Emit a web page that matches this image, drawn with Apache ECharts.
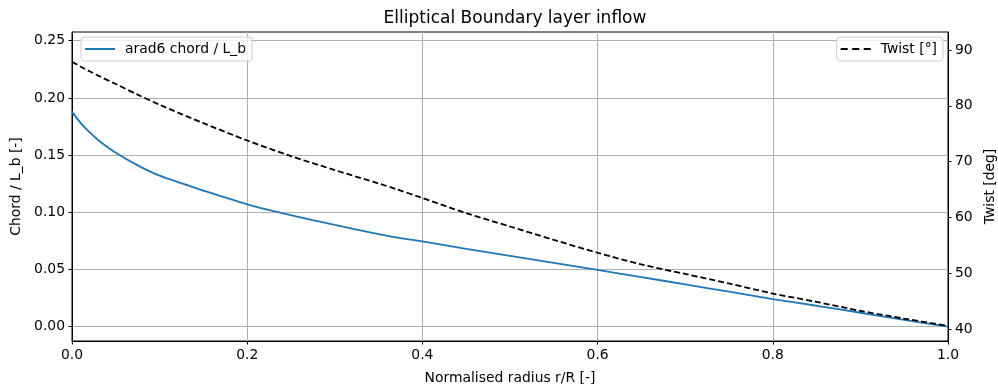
<!DOCTYPE html>
<html>
<head>
<meta charset="utf-8">
<script src="https://cdn.jsdelivr.net/npm/echarts@6/dist/echarts.min.js"></script>
<style>html,body{margin:0;padding:0;background:#fff;overflow:hidden}#c{width:998px;height:392px}</style>
</head>
<body>
<div id="c"></div>
<script>
const radius = [0, 0.01, 0.02, 0.03, 0.05, 0.075, 0.1, 0.15, 0.2, 0.25, 0.3, 0.35, 0.37, 0.4, 0.45, 0.5, 0.55, 0.6, 0.65, 0.7, 0.75, 0.8, 0.85, 0.9, 0.95, 1.0];
const chord = [0.188, 0.178, 0.170, 0.163, 0.152, 0.141, 0.132, 0.119, 0.107, 0.0975, 0.089, 0.081, 0.078, 0.0745, 0.068, 0.062, 0.0557, 0.0496, 0.0433, 0.037, 0.0306, 0.0242, 0.0183, 0.0122, 0.006, 0.0];
const twist = [87.9, 87.0, 86.2, 85.4, 83.9, 82.0, 80.2, 76.9, 73.8, 71.0, 68.5, 66.1, 65.1, 63.5, 60.8, 58.4, 56.0, 53.7, 51.6, 49.9, 48.2, 46.4, 44.9, 43.3, 41.9, 40.6];
const xTicks = [0, 0.2, 0.4, 0.6, 0.8, 1.0];
const chordTicks = [0, 0.05, 0.10, 0.15, 0.20, 0.25];
const twistTicks = [40, 50, 60, 70, 80, 90];

const FONT = 'DejaVu Sans';
const FS = 13.9;
const chart = echarts.init(document.getElementById('c'), null, {renderer: 'canvas'});
const axisCommon = {
  axisLine: {show: true, onZero: false, lineStyle: {color: '#000', width: 1}},
  axisTick: {show: true, length: 3.5, lineStyle: {color: '#000', width: 1}},
  axisLabel: {color: '#000', fontFamily: FONT, fontSize: FS, margin: 7},
  nameTextStyle: {color: '#000', fontFamily: FONT, fontSize: FS}
};
const legendCommon = {
  top: 37,
  padding: [5, 6, 5, 4],
  itemWidth: 30, itemHeight: 2,
  borderColor: '#cccccc', borderWidth: 1, borderRadius: 3,
  backgroundColor: 'rgba(255,255,255,0.8)',
  textStyle: {fontFamily: FONT, fontSize: FS, color: '#000', padding: [0, 0, 0, 5]}
};
const solidIcon = 'path://M0,0h30v2h-30z';
const dashIcon = 'path://M0,0h7v2h-7zM11.5,0h7v2h-7zM23,0h7v2h-7z';
chart.setOption({
  animation: false,
  backgroundColor: '#fff',
  title: {
    text: 'Elliptical Boundary layer inflow',
    left: 510, textAlign: 'center', top: 5,
    textStyle: {fontFamily: FONT, fontSize: 17, fontWeight: 'normal', color: '#000'}
  },
  grid: {left: 72, right: 50, top: 32, bottom: 51, show: true, borderColor: '#000', borderWidth: 1, containLabel: false, outerBoundsMode: 'none'},
  legend: [
    Object.assign({}, legendCommon, {data: [{name: 'arad6 chord / L_b', icon: solidIcon, itemStyle: {color: '#1f77b4'}}], left: 81}),
    Object.assign({}, legendCommon, {data: [{name: 'Twist [°]', icon: dashIcon, itemStyle: {color: '#000'}}], right: 55})
  ],
  xAxis: Object.assign({}, axisCommon, {
    type: 'value', min: 0, max: 1,
    name: 'Normalised radius r/R [-]', nameLocation: 'middle', nameGap: 30,
    axisTick: Object.assign({}, axisCommon.axisTick, {customValues: xTicks}),
    axisLabel: Object.assign({}, axisCommon.axisLabel, {customValues: xTicks, formatter: v => v.toFixed(1)}),
    splitLine: {show: true, lineStyle: {color: '#b0b0b0', width: 1}}
  }),
  yAxis: [
    Object.assign({}, axisCommon, {
      type: 'value', min: -0.0125, max: 0.2576, position: 'left',
      name: 'Chord / L_b [-]', nameLocation: 'middle', nameGap: 46,
      axisTick: Object.assign({}, axisCommon.axisTick, {customValues: chordTicks}),
      axisLabel: Object.assign({}, axisCommon.axisLabel, {customValues: chordTicks, formatter: v => v.toFixed(2)}),
      splitLine: {show: true, lineStyle: {color: '#b0b0b0', width: 1}}
    }),
    Object.assign({}, axisCommon, {
      type: 'value', min: 37.9, max: 93.22, position: 'right',
      name: 'Twist [deg]', nameLocation: 'middle', nameGap: 33,
      axisTick: Object.assign({}, axisCommon.axisTick, {customValues: twistTicks}),
      axisLabel: Object.assign({}, axisCommon.axisLabel, {customValues: twistTicks, formatter: v => String(Math.round(v))}),
      splitLine: {show: false}
    })
  ],
  series: [
    {
      name: 'arad6 chord / L_b', type: 'line', yAxisIndex: 0,
      data: radius.map((r, i) => [r, chord[i]]),
      smooth: 0.3, showSymbol: false, symbol: 'none',
      lineStyle: {color: '#1f77b4', width: 1.8},
      itemStyle: {color: '#1f77b4'}
    },
    {
      name: 'Twist [°]', type: 'line', yAxisIndex: 1,
      data: radius.map((r, i) => [r, twist[i]]),
      smooth: 0.3, showSymbol: false, symbol: 'none',
      lineStyle: {color: '#000', width: 1.8, type: [6, 3]},
      itemStyle: {color: '#000'}
    }
  ]
});
</script>
</body>
</html>
